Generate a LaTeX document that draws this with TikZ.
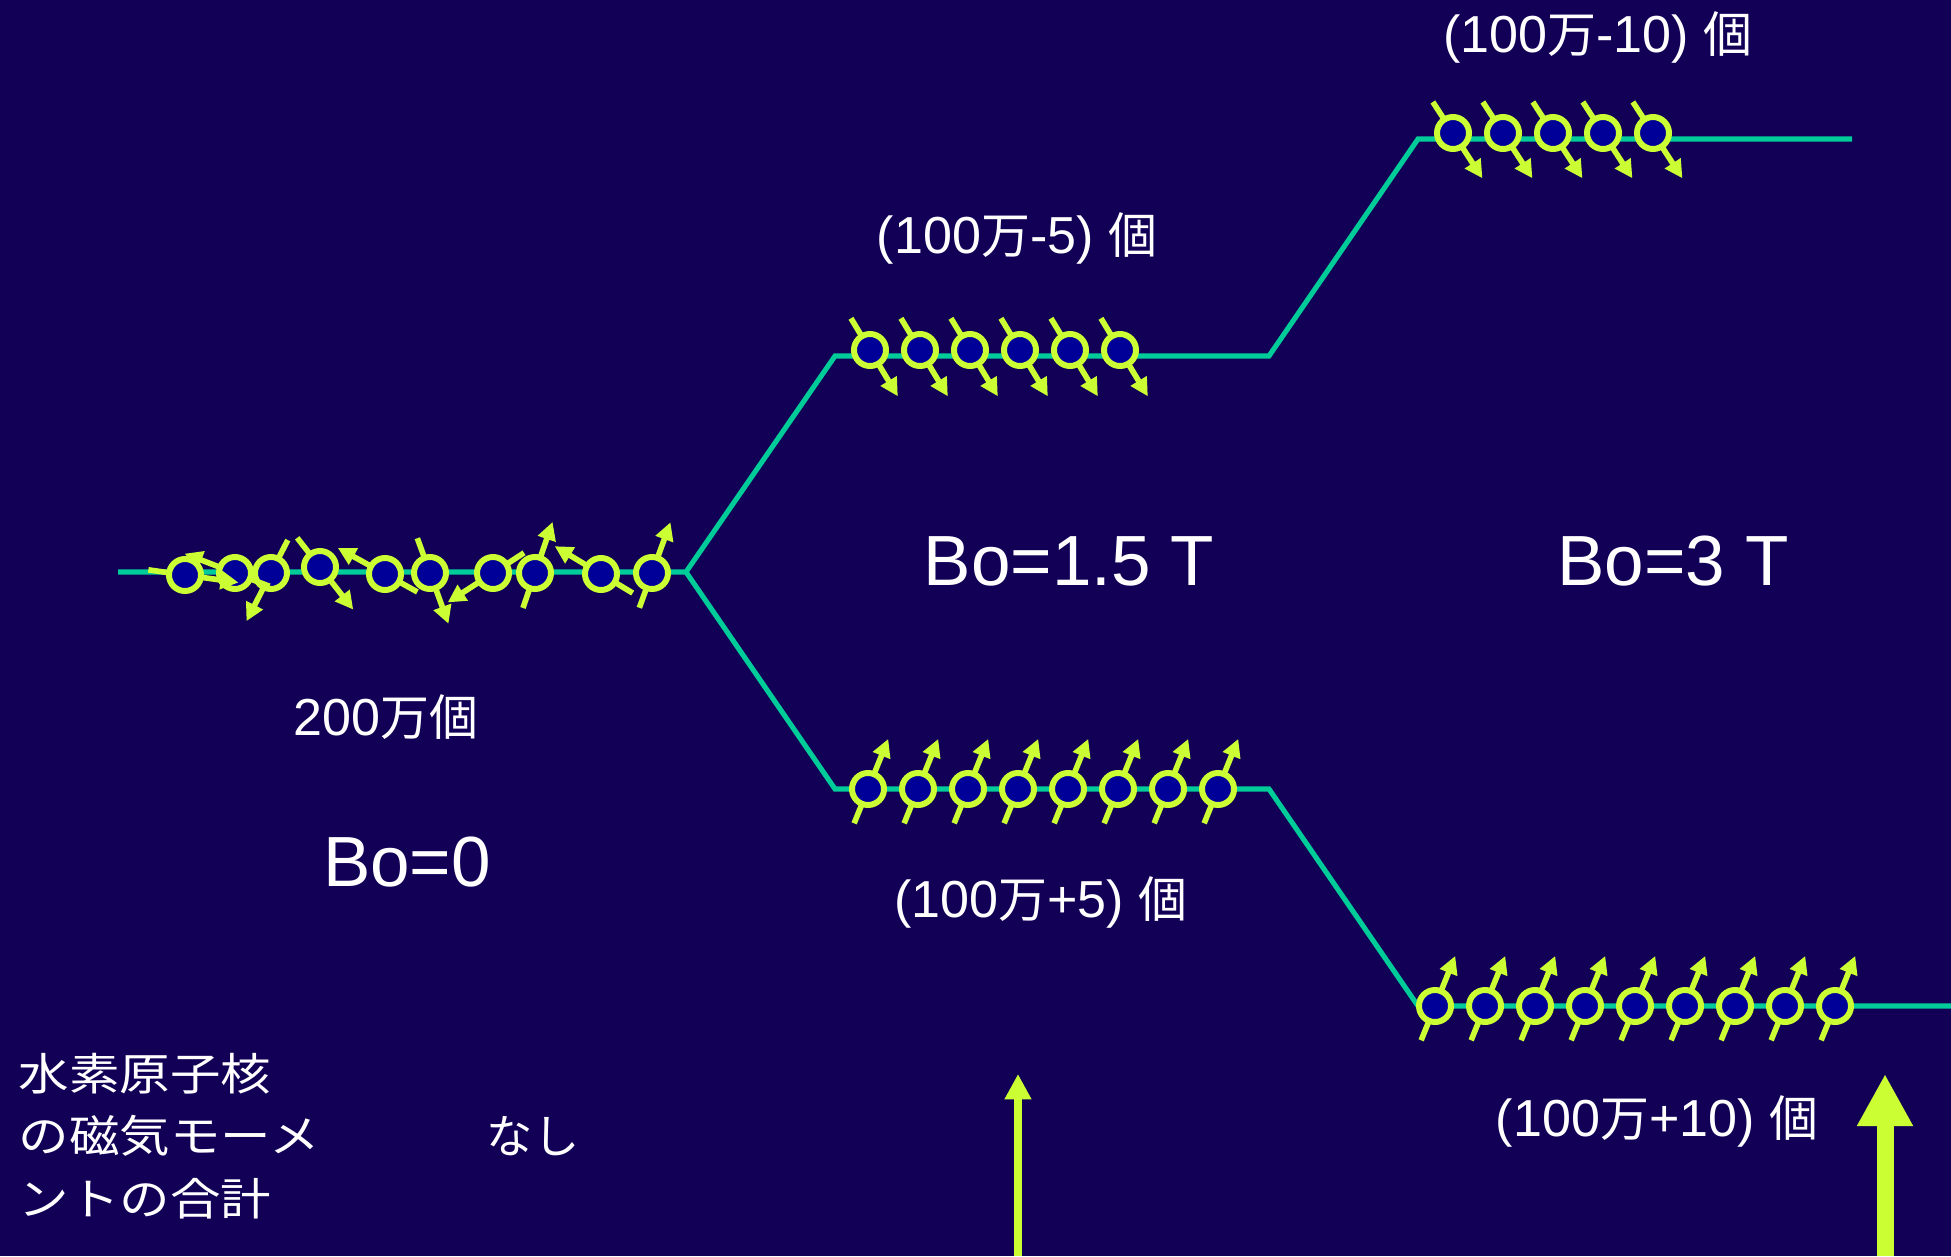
\documentclass[tikz,border=0pt]{standalone}
\usepackage{fontspec}
\setmainfont{Liberation Sans}
\newfontfamily\jp[Scale=0.94]{Noto Sans CJK JP}
\newfontfamily\jpwide[FakeStretch=1.14]{Noto Sans CJK JP}
\usetikzlibrary{arrows.meta,calc}

\definecolor{bgnavy}{RGB}{18,0,87}
\definecolor{spinfill}{RGB}{0,0,153}
\definecolor{spinlime}{RGB}{204,255,51}
\definecolor{leveline}{RGB}{0,204,153}

\tikzset{
  level/.style={draw=leveline, line width=1.45pt, line join=miter},
  spinball/.style={circle, draw=spinlime, fill=spinfill, line width=1.7pt,
    minimum size=0.32cm, inner sep=0pt},
  spinarrow/.style={draw=spinlime, line width=1.6pt,
    -{Triangle[length=5.1pt,width=5.1pt]}},
  countlabel/.style={text=white, font=\fontsize{14.8}{17}\selectfont,
    anchor=base, inner sep=0pt},
  fieldlabel/.style={text=white, font=\fontsize{20.2}{24}\selectfont,
    anchor=base, inner sep=0pt},
  jplabel/.style={text=white, font=\jpwide\fontsize{12.6}{15}\selectfont,
    anchor=base west, inner sep=0pt},
  sumlabel/.style={text=white, font=\jp\fontsize{14}{16}\selectfont,
    anchor=base, inner sep=0pt},
  thinfield/.style={draw=spinlime, line width=2.16pt,
    -{Triangle[length=7.2pt,width=7.2pt]}},
  thickfield/.style={draw=spinlime, line width=4.84pt,
    -{Triangle[length=14.8pt,width=14.9pt]}},
}

% one nucleus: moment arrow behind a ringed ball
% #1 name, #2 x, #3 y, #4 direction of the moment (degrees)
\newcommand\spinat[4]{%
  \coordinate (#1) at (#2,#3);
  \draw[spinarrow] ($(#1)+(#4+180:37)$) -- ($(#1)+(#4:54)$);
  \node[spinball] (#1c) at (#1) {};
}

\begin{document}
\begin{tikzpicture}[x=0.01cm, y=0.01cm]
\useasboundingbox (0,0) rectangle (1951,1256);
\fill[bgnavy] (0,0) rectangle (1951,1256);

% energy levels
\coordinate (z0) at (118,684);
\coordinate (split) at (686,684);
\coordinate (u1a) at (835,900);
\coordinate (u1b) at (1269,900);
\coordinate (u2a) at (1418,1117);
\coordinate (u2b) at (1852,1117);
\coordinate (d1a) at (835,467);
\coordinate (d1b) at (1269,467);
\coordinate (d2a) at (1418,250);
\coordinate (d2b) at (1951,250);
\draw[level] (z0) -- (split) -- (u1a) -- (u1b) -- (u2a) -- (u2b);
\draw[level] (split) -- (d1a) -- (d1b) -- (d2a) -- (d2b);

% no field: random orientations
\foreach \n/\x/\y/\a in {10/652/683/70, 9/601/682/149, 8/535/683/71,
    7/493/683/-147, 6/430/683/-70, 5/385/682/151, 4/320/689/-52,
    3/271/683/-117, 2/235/683/159, 1/185/681/-8}
  {\spinat{z-\n}{\x}{\y}{\a}}

% 1.5 T
\foreach \i in {0,...,5}
  {\spinat{ua-\i}{870+50*\i}{906}{-59}}
\foreach \i in {0,...,7}
  {\spinat{da-\i}{868+50*\i}{467}{68}}

% 3 T
\foreach \i in {0,...,4}
  {\spinat{ub-\i}{1453+50*\i}{1123}{-57}}
\foreach \i in {0,...,8}
  {\spinat{db-\i}{1435+50*\i}{250}{68}}

% populations and field strengths
\node[countlabel] (n10m) at (1598,1204) {(100{\jp 万}-10) {\jp 個}};
\node[countlabel] (n5m) at (1017,1003) {(100{\jp 万}-5) {\jp 個}};
\node[countlabel] (n5p) at (1041,339) {(100{\jp 万}+5) {\jp 個}};
\node[countlabel] (n10p) at (1657,120) {(100{\jp 万}+10) {\jp 個}};
\node[countlabel] (n200) at (386,521) {200{\jp 万個}};
\node[fieldlabel] (b0) at (407,370) {Bo=0};
\node[fieldlabel] (b15) at (1069,671) {Bo=1.5 T};
\node[fieldlabel] (b3) at (1673,671) {Bo=3 T};

% net magnetisation
\node[jplabel] (jp1) at (18,166) {水素原子核};
\node[jplabel] (jp2) at (18,104) {の磁気モーメ};
\node[jplabel] (jp3) at (18,41) {ントの合計};
\node[sumlabel] (none) at (533,103) {なし};

\coordinate (m15base) at (1018,0);
\coordinate (m15tip) at (1018,182);
\coordinate (m3base) at (1885,0);
\coordinate (m3tip) at (1885,182);
\draw[thinfield] (m15base) -- (m15tip);
\draw[thickfield] (m3base) -- (m3tip);
\end{tikzpicture}
\end{document}
